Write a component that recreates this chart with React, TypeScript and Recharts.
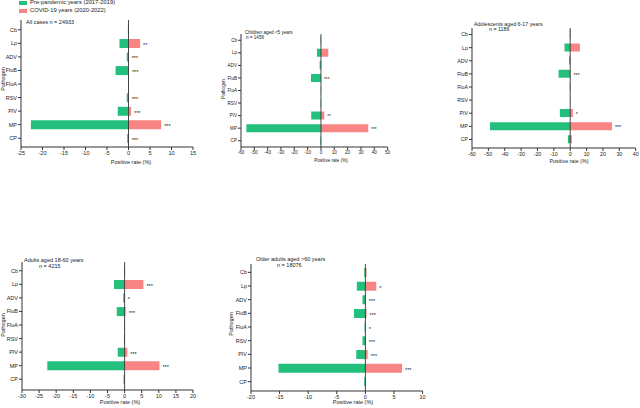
import React from 'react';
import { BarChart, Bar, XAxis, YAxis, ReferenceLine, LabelList } from 'recharts';

const pathogens = ['Cb', 'Lp', 'ADV', 'FluB', 'FluA', 'RSV', 'PIV', 'MP', 'CP'];

// pre-pandemic shown as negative, covid as positive
const allPre = [-0.15, -2.1, -0.4, -3.0, -0.1, -0.4, -2.5, -22.7, -0.3];
const allCovid = [0.1, 2.7, 0.05, 0.1, 0.05, 0.05, 0.6, 7.6, 0.05];
const allSig = ['', '**', '***', '***', '', '***', '***', '***', '***'];

const childPre = [-0.3, -3.0, -1.0, -7.5, -0.2, -0.3, -7.3, -56, -0.5];
const childCovid = [0.1, 5.5, 0.1, 0.1, 0.1, 0.1, 2.5, 35.5, 0.1];
const childSig = ['', '', '', '***', '', '', '**', '***', ''];

const adolPre = [-0.3, -3.5, -0.7, -7.1, -0.3, -0.1, -6.3, -49, -1.4];
const adolCovid = [0.1, 5.9, 0.05, 0.1, 0.05, 0.05, 1.6, 25.5, 1.0];
const adolSig = ['', '', '', '***', '', '', '*', '***', ''];

const adultPre = [-0.1, -3.1, -0.4, -2.3, -0.1, -0.2, -2.0, -22.6, -0.3];
const adultCovid = [0.15, 5.5, 0.05, 0.3, 0.1, 0.05, 0.8, 10.2, 0.1];
const adultSig = ['', '***', '*', '***', '', '', '***', '***', ''];

const elderPre = [-0.2, -1.5, -0.5, -2.0, -0.15, -0.5, -1.6, -15.2, -0.2];
const elderCovid = [0.2, 1.9, 0.05, 0.2, 0.05, 0.05, 0.4, 6.4, 0.05];
const elderSig = ['', '*', '***', '***', '*', '***', '***', '***', ''];

const allTicks = [-25, -20, -15, -10, -5, 0, 5, 10, 15];
const childTicks = [-60, -50, -40, -30, -20, -10, 0, 10, 20, 30, 40, 50];
const adolTicks = [-60, -50, -40, -30, -20, -10, 0, 10, 20, 30, 40];
const adultTicks = [-30, -25, -20, -15, -10, -5, 0, 5, 10, 15, 20];
const elderTicks = [-20, -15, -10, -5, 0, 5, 10];

const GREEN = '#22c07c';
const RED = '#f98484';
const FONT = '"Liberation Sans", Arial, sans-serif';

const build = (pre: number[], covid: number[], sig: string[]) =>
  pathogens.map((name, i) => ({ name, pre: pre[i], covid: covid[i], sig: sig[i] }));

interface PanelCfg {
  data: any[];
  ticks: number[];
  x0: number;
  x1: number;
  top: number;
  bottom: number;
  padTop: number;
  padBot: number;
  yW: number;
  fs: number;
  title: string[];
  titlePos: [number, number][];
  ylabel?: [number, number];
  xlabel: [number, number];
}

const panels: PanelCfg[] = [
  {
    data: build(allPre, allCovid, allSig), ticks: allTicks,
    x0: 21, x1: 193, top: 20, bottom: 147, padTop: 3, padBot: 2, yW: 21, fs: 5.5,
    title: ['All cases n = 24933'], titlePos: [[26, 22.5]],
    ylabel: [4, 79], xlabel: [131, 163],
  },
  {
    data: build(childPre, childCovid, childSig), ticks: childTicks,
    x0: 240.7, x1: 387.3, top: 34, bottom: 147, padTop: 0, padBot: 0, yW: 18, fs: 4.6,
    title: ['Children aged <5 years', 'n = 1456'], titlePos: [[245, 33], [246, 38.5]],
    ylabel: [224, 89], xlabel: [331, 160.7],
  },
  {
    data: build(adolPre, adolCovid, adolSig), ticks: adolTicks,
    x0: 472.3, x1: 636, top: 28, bottom: 148, padTop: 0, padBot: 2, yW: 20, fs: 5.3,
    title: ['Adolescents aged 6-17 years', 'n = 1186'], titlePos: [[474, 25], [489, 30]],
    xlabel: [569, 161.7],
  },
  {
    data: build(adultPre, adultCovid, adultSig), ticks: adultTicks,
    x0: 22.3, x1: 193.3, top: 262, bottom: 390, padTop: 2, padBot: 4, yW: 22, fs: 5.5,
    title: ['Adults aged 18-60 years', 'n = 4215'], titlePos: [[24, 260.7], [39, 267]],
    ylabel: [4, 325], xlabel: [120, 402.7],
  },
  {
    data: build(elderPre, elderCovid, elderSig), ticks: elderTicks,
    x0: 250.7, x1: 422.3, top: 264, bottom: 391, padTop: 1.5, padBot: 2.5, yW: 22, fs: 5.5,
    title: ['Older adults aged >60 years', 'n = 18076'], titlePos: [[256, 260], [277, 266]],
    ylabel: [232, 324], xlabel: [353, 403.3],
  },
];

function SigLabel(props: any) {
  const { x, y, width, height, value, fs } = props;
  if (!value) return null;
  const end = Number(x) + Math.max(Number(width), 0);
  return (
    <text x={end + 3} y={Number(y) + Number(height) / 2} dy="0.62em" fontSize={fs} fill="#222" fontFamily={FONT}>
      {value}
    </text>
  );
}

function Panel({ cfg }: { cfg: PanelCfg }) {
  const xh = 14;
  const right = 10;
  const w = cfg.yW + (cfg.x1 - cfg.x0) + right;
  const h = cfg.bottom - cfg.top + xh;
  const tickStyle = { fontSize: cfg.fs, fill: '#222', fontFamily: FONT };
  return (
    <>
      <div style={{ position: 'absolute', left: cfg.x0 - cfg.yW, top: cfg.top }}>
        <BarChart
          width={w}
          height={h}
          data={cfg.data}
          layout="vertical"
          stackOffset="sign"
          barCategoryGap="18%"
          margin={{ top: 0, right, bottom: 0, left: 0 }}
        >
          <XAxis
            type="number"
            domain={[cfg.ticks[0], cfg.ticks[cfg.ticks.length - 1]]}
            ticks={cfg.ticks}
            interval={0}
            height={xh}
            tick={tickStyle}
            tickSize={3}
            tickMargin={1}
            stroke="#333"
            allowDataOverflow
          />
          <YAxis
            type="category"
            dataKey="name"
            width={cfg.yW}
            tick={tickStyle}
            tickSize={3}
            tickMargin={1}
            interval={0}
            stroke="#333"
            padding={{ top: cfg.padTop, bottom: cfg.padBot }}
          />
          <Bar dataKey="pre" stackId="s" fill={GREEN} isAnimationActive={false} />
          <Bar dataKey="covid" stackId="s" fill={RED} isAnimationActive={false}>
            <LabelList dataKey="sig" content={(p: any) => <SigLabel {...p} fs={cfg.fs} />} />
          </Bar>
          <ReferenceLine x={0} stroke="#333" strokeWidth={0.9} />
        </BarChart>
      </div>
      {cfg.title.map((t, i) => (
        <div
          key={t}
          style={{
            position: 'absolute', left: cfg.titlePos[i][0], top: cfg.titlePos[i][1] - cfg.fs / 2,
            fontSize: cfg.fs, lineHeight: 1, whiteSpace: 'nowrap', color: '#222',
          }}
        >
          {t}
        </div>
      ))}
      {cfg.ylabel && (
        <div
          style={{
            position: 'absolute', left: cfg.ylabel[0], top: cfg.ylabel[1], fontSize: cfg.fs,
            lineHeight: 1, whiteSpace: 'nowrap', color: '#222',
            transform: 'translate(-50%, -50%) rotate(-90deg)',
          }}
        >
          Pathogen
        </div>
      )}
      <div
        style={{
          position: 'absolute', left: cfg.xlabel[0], top: cfg.xlabel[1], fontSize: cfg.fs,
          lineHeight: 1, whiteSpace: 'nowrap', color: '#222', transform: 'translate(-50%, -50%)',
        }}
      >
        Positive rate (%)
      </div>
    </>
  );
}

export default function App() {
  return (
    <div
      style={{
        position: 'absolute', left: 0, top: 0, width: 640, height: 408, overflow: 'hidden',
        background: '#fff', fontFamily: FONT,
      }}
    >
      {panels.map((p, i) => (
        <Panel key={i} cfg={p} />
      ))}
      <div style={{ position: 'absolute', left: 19, top: -1, fontSize: 5.8, lineHeight: 1, color: '#222' }}>
        <div style={{ display: 'flex', alignItems: 'center', height: 8 }}>
          <span style={{ width: 8, height: 4, background: GREEN, marginRight: 3 }} />
          Pre-pandemic years (2017-2019)
        </div>
        <div style={{ display: 'flex', alignItems: 'center', height: 8 }}>
          <span style={{ width: 8, height: 4, background: RED, marginRight: 3 }} />
          COVID-19 years (2020-2022)
        </div>
      </div>
    </div>
  );
}
